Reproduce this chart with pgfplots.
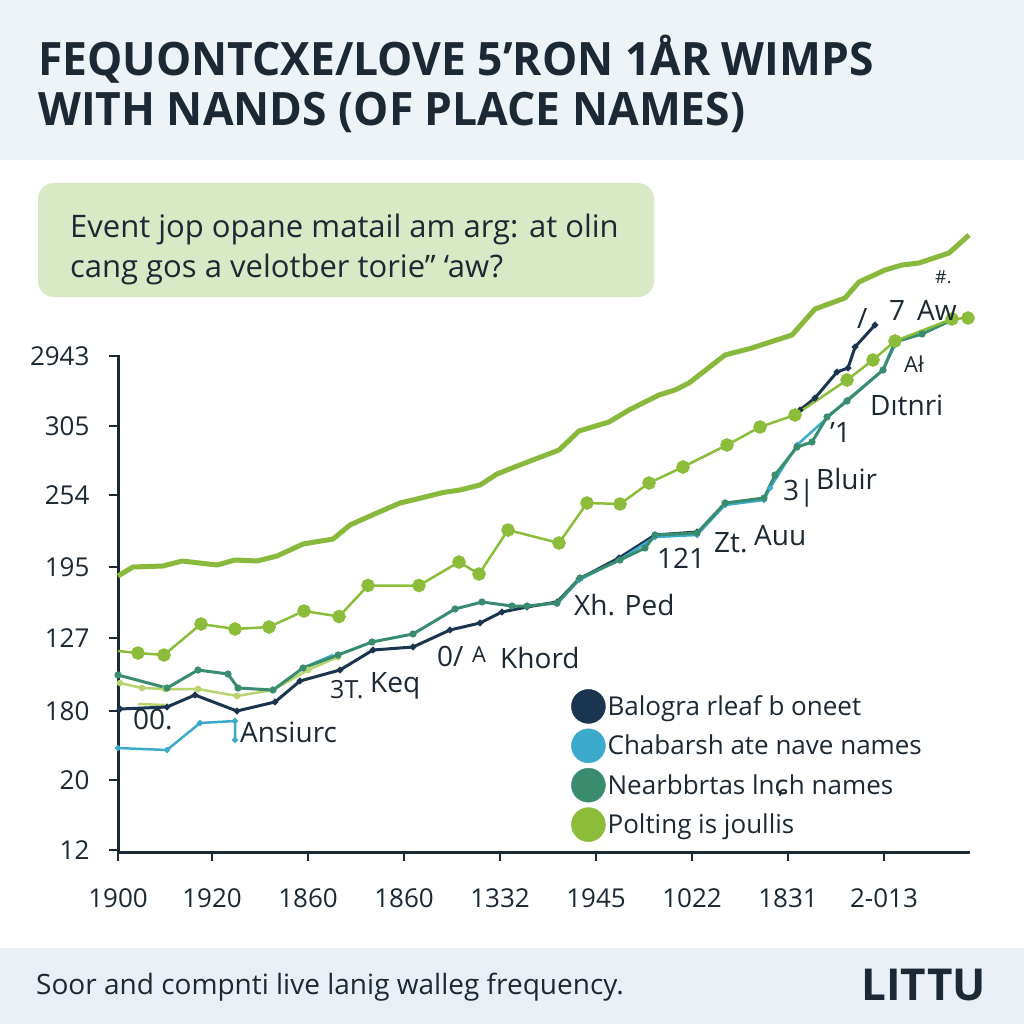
\documentclass[border=0pt]{standalone}
\usepackage{pgfplots}
\pgfplotsset{compat=1.18}
\usepackage{fontspec}
\setmainfont{Open Sans}
\newfontfamily\dejavu{DejaVu Sans}

\definecolor{ink}{HTML}{1C2833}
\definecolor{navy}{HTML}{1B3550}
\definecolor{skyb}{HTML}{3CAACB}
\definecolor{tealg}{HTML}{3A8C6E}
\definecolor{lime}{HTML}{8CBD3A}
\definecolor{limetop}{HTML}{88B83C}
\definecolor{pale}{HTML}{B7D46E}
\definecolor{band}{HTML}{EEF3F8}
\definecolor{footband}{HTML}{E9EFF5}
\definecolor{boxg}{HTML}{D9E9C5}

\newcommand\fs[1]{\fontsize{#1}{#1}\selectfont}

\begin{document}
\begin{tikzpicture}[x=1pt,y=1pt]
\useasboundingbox (0,0) rectangle (1024,-1024);
\fill[white] (0,0) rectangle (1024,-1024);
\fill[band] (0,0) rectangle (1024,-160);
\fill[footband] (0,-948) rectangle (1024,-1024);

% title
\node[anchor=base west, inner sep=0pt, text=ink, font=\fs{46}\bfseries] at (38,-76)
  {\scalebox{0.965}[1]{FEQUONTCXE/LOVE 5’RON 1ÅR WIMPS}};
\node[anchor=base west, inner sep=0pt, text=ink, font=\fs{46}\bfseries] at (38,-126)
  {\scalebox{0.965}[1]{WITH NANDS (OF PLACE NAMES)}};

% note box
\fill[boxg, rounded corners=16pt] (38,-183) rectangle (654,-297);
\node[anchor=base west, inner sep=0pt, text=ink, font=\fs{31}] at (70,-237)
  {Event jop opane matail am arg: at olin};
\node[anchor=base west, inner sep=0pt, text=ink, font=\fs{31}] at (70,-277)
  {cang gos a velotber torie” ‘aw?};

\begin{axis}[
    at={(118pt,-852pt)}, anchor=south west,
    scale only axis, width=852pt, height=497pt,
    xmin=0, xmax=852, ymin=0, ymax=497,
    clip=false,
    axis x line*=bottom, axis y line*=left,
    axis line style={line width=3pt, ink},
    tick align=outside, major tick length=9pt,
    tick style={line width=2.5pt, ink},
    xtick={0,94,190,286,382,478,574,670,766},
    xticklabels={1900,1920,1860,1860,1332,1945,1022,1831,2-013},
    ytick={2,72,141,214,285,357,426,496},
    yticklabels={12,20,180,127,195,254,305,2943},
    ticklabel style={font=\fs{26}, text=ink},
    xticklabel style={yshift=-24pt},
    yticklabel style={xshift=-16pt},
    legend style={draw=none, fill=none, at={(axis cs:450,165)}, anchor=north west,
                  font=\fs{26}, text=ink, row sep=5pt},
    legend cell align=left,
]

% top thick green line
\addplot[limetop, line width=5pt, line join=round, forget plot] coordinates {
(0,276) (15,285) (45,286) (64,291) (99,287) (117,292) (139,291) (159,296)
(185,308) (215,313) (232,327) (252,336) (282,349) (299,353) (325,359.5)
(342,362) (362,367) (379,378) (394,384) (441,402) (461,421) (491,430)
(511,442) (541,457) (557,462) (571,469) (607,497) (634,504) (674,517)
(697,543) (727,554) (741,570) (767,582) (784,587) (801,589) (831,599) (851,617)
};

% pale green
\addplot[pale, line width=2.5pt, mark=*, mark size=2pt, forget plot] coordinates {
(2,169) (24,164) (47,163) (80,163) (119,156) (155,162) (190,182) (220,195)
};
\addplot[pale, line width=2.5pt, forget plot] coordinates {(20,148) (47,147)};

% navy
\addplot[navy, line width=3pt, mark=*, mark size=1.5pt, forget plot] coordinates {
(2,143) (49,145) (77,157) (119,141) (157,150) (182,171) (222,182) (255,202)
(295,205) (332,222) (362,229) (384,240) (409,245) (439,250) (461,273)
(501,294) (537,317) (579,320)
};
\addplot[navy, line width=3pt, mark=*, mark size=1.5pt, forget plot] coordinates {
(682,442) (697,454) (719,480) (730,484) (737,505) (757,527)
};

% light blue
\addplot[skyb, line width=2.5pt, mark=*, mark size=1.5pt, forget plot] coordinates {
(0,104) (49,102) (82,129) (117,131) (117,112)
};
\addplot[skyb, line width=2.5pt, forget plot] coordinates {(185,184) (215,197)};
\addplot[skyb, line width=2.5pt, mark=*, mark size=1.5pt, forget plot] coordinates {
(439,248) (461,272) (501,292) (537,315) (579,317) (607,347) (646,352) (652,364)
(679,407) (729,452) (765,482) (777,507)
};

% teal green
\addplot[tealg, line width=3pt, mark=*, mark size=2pt, forget plot] coordinates {
(0,177) (49,164) (80,182) (110,178) (120,164) (155,162) (185,184) (220,197)
(254,210) (295,218) (337,243) (364,250) (394,246) (409,246) (439,249)
(462,274) (502,292) (527,304) (537,317) (579,319) (607,349) (646,354)
(657,377) (679,405) (694,410) (709,435) (729,451) (765,482) (777,510)
(804,518) (834,532)
};

% lime with dots
\addplot[lime, line width=2.5pt, mark=*, mark size=5.5pt, mark indices={2,...,26}, forget plot] coordinates {
(0,201) (20,199) (46,197) (83,228) (117,223) (151,225) (186,241) (221,235.5)
(250,266.5) (301,266.5) (341,290) (361,278) (390,322) (441,309) (469,349)
(502,348) (531,369) (565,385) (609,407) (642,425) (677,437) (729,472)
(755,492) (777,511) (834,533) (850,534)
};

\addlegendimage{navy, legend image code/.code={\fill (0pt,0pt) circle (17pt);}}
\addlegendimage{skyb, legend image code/.code={\fill (0pt,0pt) circle (17pt);}}
\addlegendimage{tealg, legend image code/.code={\fill (0pt,0pt) circle (17pt);}}
\addlegendimage{lime, legend image code/.code={\fill (0pt,0pt) circle (17pt);}}
\legend{Balogra rleaf b oneet, Chabarsh ate nave names, Nearbbrtas ln{\dejavu ɕ}h names, Polting is joullis}
\end{axis}

% in-chart labels
\begin{scope}[every node/.style={anchor=base west, inner sep=0pt, text=ink, font=\fs{28}}]
\node at (133,-729) {00.};
\node at (240,-742) {Ansiurc};
\node[font=\fs{25}] at (330,-698) {3T.};
\node at (370,-692) {Keq};
\node at (437,-666) {0/};
\node[font=\fs{22}] at (472,-662) {A};
\node at (500,-668) {Khord};
\node at (574,-615) {Xh. Ped};
\node at (657,-568) {121};
\node at (714,-552) {Zt.};
\node at (754,-545) {Auu};
\node at (783,-500) {3|};
\node at (816,-489) {Bluir};
\node at (830,-442) {’1};
\node at (870,-415) {Dıtnri};
\node[font=\fs{22}] at (904,-372) {Ał};
\node at (857,-328) {/};
\node at (889,-320) {7};
\node at (917,-320) {Aw};
\node[font=\fs{18}] at (935,-283) {\#.};
\end{scope}

% footer
\node[anchor=base west, inner sep=0pt, text=ink, font=\fs{28}] at (36,-994)
  {Soor and compnti live lanig walleg frequency.};
\node[anchor=base east, inner sep=0pt, text=ink, font=\fs{44}\bfseries] at (986,-1000)
  {LITTU};
\end{tikzpicture}
\end{document}
